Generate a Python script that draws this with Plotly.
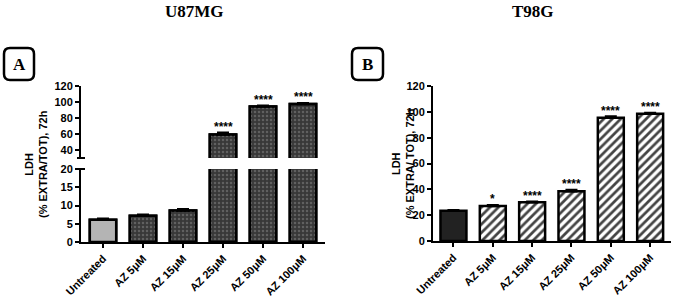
import plotly.graph_objects as go

W, H = 676, 296

categories = ["Untreated", "AZ 5μM", "AZ 15μM", "AZ 25μM", "AZ 50μM", "AZ 100μM"]

u87_values = [6.1, 7.2, 8.6, 59.5, 94.5, 97.5]
u87_errors = [0.3, 0.3, 0.4, 2.2, 0.8, 0.8]
u87_sig = ["", "", "", "****", "****", "****"]

t98_values = [23.5, 27.0, 30.0, 38.5, 95.5, 98.5]
t98_errors = [0.4, 0.6, 0.4, 1.0, 0.8, 0.6]
t98_sig = ["", "*", "****", "****", "****", "****"]

u87_low_ticks = [0, 5, 10, 15, 20]
u87_high_ticks = [40, 60, 80, 100, 120]
t98_ticks = [0, 20, 40, 60, 80, 100, 120]

SANS = "Liberation Sans"
SERIF = "Liberation Serif"


def px(p):
    return p / W


def py(p):
    return 1 - p / H


# pixel geometry
A_x0, A_x1 = 81, 325
A_low = (169, 242)
A_high = (86, 158)
B_x0, B_x1 = 433, 671
B_y = (86, 241)

fig = go.Figure()

u87_colors = ["#b4b4b4"] + ["#383838"] * 5
u87_dot_colors = ["#b4b4b4"] + ["#606060"] * 5
u87_shapes = [""] + ["."] * 5
t98_colors = ["#222222"] + ["white"] * 5
t98_shapes = [""] + ["/"] * 5
xs = list(range(len(categories)))


def u87_bars(xa, ya):
    base = go.Bar(
        x=xs, y=u87_values, xaxis=xa, yaxis=ya, width=0.66,
        marker=dict(color=u87_colors, line=dict(color="black", width=2.5)),
        hoverinfo="skip",
    )
    dots = go.Bar(
        x=xs, y=u87_values, xaxis=xa, yaxis=ya, width=0.66,
        marker=dict(color=u87_dot_colors, line=dict(color="black", width=2.5),
                    pattern=dict(shape=u87_shapes, size=4, solidity=0.3, fillmode="replace",
                                 bgcolor="rgba(0,0,0,0)")),
        error_y=dict(type="data", array=u87_errors, arrayminus=[0] * 6, symmetric=False,
                     color="black", thickness=2.5, width=6),
        hoverinfo="skip",
    )
    return [base, dots]


for tr in u87_bars("x", "y") + u87_bars("x2", "y2"):
    fig.add_trace(tr)

fig.add_trace(go.Bar(
    x=xs, y=t98_values, xaxis="x3", yaxis="y3", width=0.66,
    marker=dict(color=t98_colors, line=dict(color="black", width=2.5),
                pattern=dict(shape=t98_shapes, fgcolor="#4a4a4a", bgcolor="white", size=6,
                             solidity=0.45, fillmode="overlay", fgopacity=1)),
    error_y=dict(type="data", array=t98_errors, arrayminus=[0] * 6, symmetric=False,
                 color="black", thickness=2.5, width=6),
    hoverinfo="skip",
))

axis_common = dict(showline=True, linecolor="black", linewidth=2, ticks="outside",
                   ticklen=4, tickwidth=2, tickcolor="black", showgrid=False, zeroline=False,
                   automargin=False,
                   tickfont=dict(family=SANS, size=11, color="black", weight="bold"))

xcat = dict(tickmode="array", tickvals=xs, ticktext=categories, tickangle=-45)
xaxis_common = dict(axis_common, tickfont=dict(family=SANS, size=11, color="black",
                                               weight="bold"))

fig.update_layout(
    width=W, height=H, margin=dict(l=0, r=0, t=0, b=0, autoexpand=False),
    paper_bgcolor="white", plot_bgcolor="white", showlegend=False, barmode="overlay",
    xaxis=dict(domain=[px(A_x0), px(A_x1)], anchor="y", range=[-0.55, 5.55], **xcat,
               **xaxis_common),
    yaxis=dict(domain=[py(A_low[1]), py(A_low[0])], anchor="x", range=[0, 20],
               tickmode="array", tickvals=u87_low_ticks, **axis_common),
    xaxis2=dict(domain=[px(A_x0), px(A_x1)], anchor="y2", range=[-0.55, 5.55],
                visible=False, automargin=False),
    yaxis2=dict(domain=[py(A_high[1]), py(A_high[0])], anchor="x2", range=[30, 120],
                tickmode="array", tickvals=u87_high_ticks, **axis_common),
    xaxis3=dict(domain=[px(B_x0), px(B_x1)], anchor="y3", range=[-0.52, 5.53], **xcat,
                **xaxis_common),
    yaxis3=dict(domain=[py(B_y[1]), py(B_y[0])], anchor="x3", range=[0, 120],
                tickmode="array", tickvals=t98_ticks, **axis_common),
)

star_font = dict(family=SANS, size=12, color="black", weight="bold")
annotations = []
for i, s in enumerate(u87_sig):
    if s:
        annotations.append(dict(x=i, y=u87_values[i] + u87_errors[i], xref="x2", yref="y2",
                                text=s, showarrow=False, xanchor="center", yanchor="bottom",
                                yshift=-3, font=star_font))
for i, s in enumerate(t98_sig):
    if s:
        annotations.append(dict(x=i, y=t98_values[i] + t98_errors[i], xref="x3", yref="y3",
                                text=s, showarrow=False, xanchor="center", yanchor="bottom",
                                yshift=-3, font=star_font))


def paper_text(x, y, text, font, angle=0):
    return dict(x=px(x), y=py(y), xref="paper", yref="paper", text=text, showarrow=False,
                xanchor="center", yanchor="middle", textangle=angle, font=font)


title_font = dict(family=SERIF, size=17, color="black", weight="bold")
ytitle_font = dict(family=SANS, size=11, color="black", weight="bold")

annotations.append(paper_text(195, 11, "U87MG", title_font))
annotations.append(paper_text(533, 11, "T98G", title_font))
annotations.append(paper_text(36, 164, "LDH<br>(% EXTRA/TOT), 72h", ytitle_font, -90))
annotations.append(paper_text(403, 164, "LDH<br>(% EXTRA/ TOT), 72h", ytitle_font, -90))
annotations.append(paper_text(19, 64, "A", title_font))
annotations.append(paper_text(367.5, 64, "B", title_font))
fig.update_layout(annotations=annotations)


def rounded_rect(x0, y0, x1, y1, r):
    pts = [
        f"M {px(x0 + r)},{py(y0)}", f"L {px(x1 - r)},{py(y0)}",
        f"Q {px(x1)},{py(y0)} {px(x1)},{py(y0 + r)}", f"L {px(x1)},{py(y1 - r)}",
        f"Q {px(x1)},{py(y1)} {px(x1 - r)},{py(y1)}", f"L {px(x0 + r)},{py(y1)}",
        f"Q {px(x0)},{py(y1)} {px(x0)},{py(y1 - r)}", f"L {px(x0)},{py(y0 + r)}",
        f"Q {px(x0)},{py(y0)} {px(x0 + r)},{py(y0)}", "Z",
    ]
    return " ".join(pts)


shapes = [
    dict(type="path", xref="paper", yref="paper", path=rounded_rect(4, 48, 34, 80, 6),
         line=dict(color="black", width=2.5)),
    dict(type="path", xref="paper", yref="paper", path=rounded_rect(352, 48, 383, 80, 6),
         line=dict(color="black", width=2.5)),
    # break caps on the U87MG axis
    dict(type="line", xref="paper", yref="paper", x0=px(A_x0 - 4), x1=px(A_x0 + 4),
         y0=py(A_high[1]), y1=py(A_high[1]), line=dict(color="black", width=2)),
    dict(type="line", xref="paper", yref="paper", x0=px(A_x0 - 4), x1=px(A_x0 + 4),
         y0=py(A_low[0]), y1=py(A_low[0]), line=dict(color="black", width=2)),
]
fig.update_layout(shapes=shapes)

fig.write_html("out.html")
